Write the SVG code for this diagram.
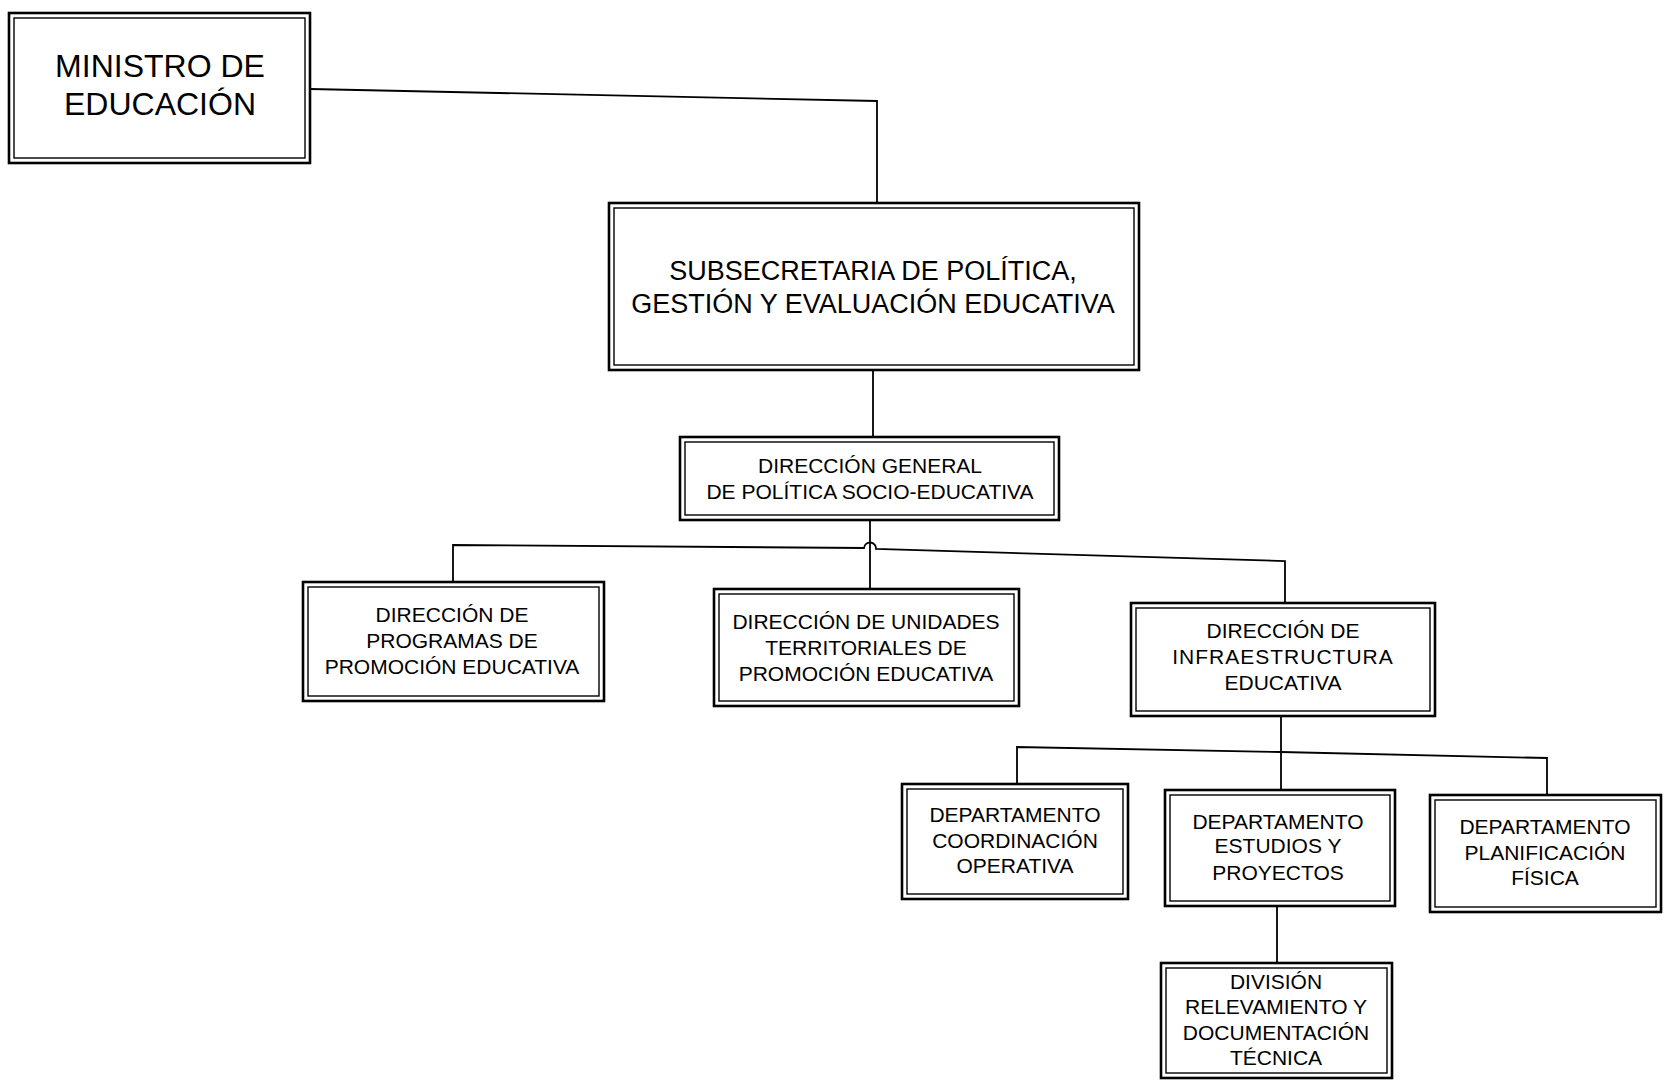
<svg xmlns="http://www.w3.org/2000/svg" width="1673" height="1082" viewBox="0 0 1673 1082">
<style>
.outer{fill:#fff;stroke:#000;stroke-width:2.6}
.inner{fill:none;stroke:#000;stroke-width:1.4}
.ln{fill:none;stroke:#000;stroke-width:1.8}
text{font-family:"Liberation Sans",Arial,sans-serif;fill:#000;text-anchor:middle}
.t32{font-size:32px}
.t27{font-size:27px}
.t21{font-size:21px}
</style>
<rect width="1673" height="1082" fill="#fff"/>
<g id="connectors">
<polyline class="ln" points="310,89 877,101 877,203"/>
<line class="ln" x1="873" y1="370" x2="873" y2="437"/>
<line class="ln" x1="870" y1="520" x2="870" y2="589"/>
<path class="ln" d="M453,583 L453,545 L864,548 A6,6 0 0 1 876,549 L1285,561 L1285,603"/>
<polyline class="ln" points="1017,784 1017,747 1281,752 1547,758 1547,796"/>
<line class="ln" x1="1281" y1="716" x2="1281" y2="790"/>
<line class="ln" x1="1277" y1="906" x2="1277" y2="963"/>
</g>
<g id="ministro">
<rect class="outer" x="9" y="13" width="301" height="150"/>
<rect class="inner" x="14" y="18" width="291" height="140"/>
<text class="t32" x="160" y="77">MINISTRO DE</text>
<text class="t32" x="160" y="115">EDUCACIÓN</text>
</g>
<g id="subsecretaria">
<rect class="outer" x="609" y="203" width="530" height="167"/>
<rect class="inner" x="614" y="208" width="520" height="157"/>
<text class="t27" x="873" y="280">SUBSECRETARIA DE POLÍTICA,</text>
<text class="t27" x="873" y="313">GESTIÓN Y EVALUACIÓN EDUCATIVA</text>
</g>
<g id="direccion-general">
<rect class="outer" x="680" y="437" width="379" height="83"/>
<rect class="inner" x="685" y="442" width="369" height="73"/>
<text class="t21" x="870" y="473">DIRECCIÓN GENERAL</text>
<text class="t21" x="870" y="499">DE POLÍTICA SOCIO-EDUCATIVA</text>
</g>
<g id="dir-programas">
<rect class="outer" x="303" y="582" width="301" height="119"/>
<rect class="inner" x="308" y="587" width="291" height="109"/>
<text class="t21" x="452" y="622">DIRECCIÓN DE</text>
<text class="t21" x="452" y="648">PROGRAMAS DE</text>
<text class="t21" x="452" y="674">PROMOCIÓN EDUCATIVA</text>
</g>
<g id="dir-unidades">
<rect class="outer" x="714" y="589" width="305" height="117"/>
<rect class="inner" x="719" y="594" width="295" height="107"/>
<text class="t21" x="866" y="629">DIRECCIÓN DE UNIDADES</text>
<text class="t21" x="866" y="655">TERRITORIALES DE</text>
<text class="t21" x="866" y="681">PROMOCIÓN EDUCATIVA</text>
</g>
<g id="dir-infraestructura">
<rect class="outer" x="1131" y="603" width="304" height="113"/>
<rect class="inner" x="1136" y="608" width="294" height="103"/>
<text class="t21" x="1283" y="638">DIRECCIÓN DE</text>
<text class="t21" x="1283" y="664" letter-spacing="1">INFRAESTRUCTURA</text>
<text class="t21" x="1283" y="690">EDUCATIVA</text>
</g>
<g id="dep-coordinacion">
<rect class="outer" x="902" y="784" width="226" height="115"/>
<rect class="inner" x="907" y="789" width="216" height="105"/>
<text class="t21" x="1015" y="822">DEPARTAMENTO</text>
<text class="t21" x="1015" y="848">COORDINACIÓN</text>
<text class="t21" x="1015" y="873">OPERATIVA</text>
</g>
<g id="dep-estudios">
<rect class="outer" x="1165" y="790" width="230" height="116"/>
<rect class="inner" x="1170" y="795" width="220" height="106"/>
<text class="t21" x="1278" y="829">DEPARTAMENTO</text>
<text class="t21" x="1278" y="853">ESTUDIOS Y</text>
<text class="t21" x="1278" y="880">PROYECTOS</text>
</g>
<g id="dep-planificacion">
<rect class="outer" x="1430" y="795" width="231" height="117"/>
<rect class="inner" x="1435" y="800" width="221" height="107"/>
<text class="t21" x="1545" y="834">DEPARTAMENTO</text>
<text class="t21" x="1545" y="860">PLANIFICACIÓN</text>
<text class="t21" x="1545" y="885">FÍSICA</text>
</g>
<g id="division">
<rect class="outer" x="1161" y="963" width="231" height="115"/>
<rect class="inner" x="1166" y="968" width="221" height="105"/>
<text class="t21" x="1276" y="989">DIVISIÓN</text>
<text class="t21" x="1276" y="1014">RELEVAMIENTO Y</text>
<text class="t21" x="1276" y="1040">DOCUMENTACIÓN</text>
<text class="t21" x="1276" y="1065">TÉCNICA</text>
</g>
</svg>
